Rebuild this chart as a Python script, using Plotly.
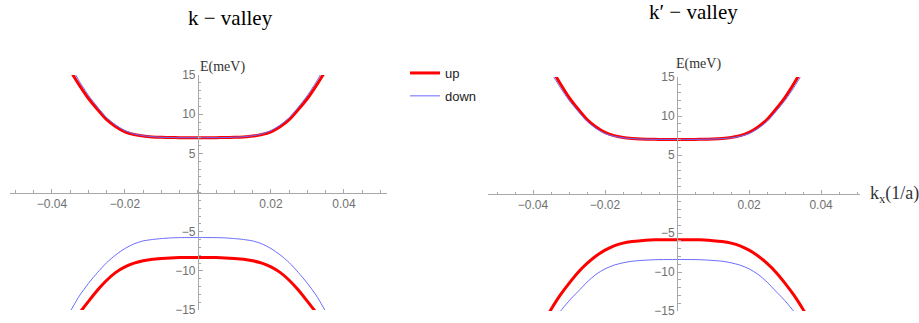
import plotly.graph_objects as go

# ---------------- data ----------------
K = [-0.0375, -0.035, -0.0325, -0.03, -0.0275, -0.025, -0.0225, -0.02, -0.0175, -0.015,
     -0.0125, -0.01, -0.0075, -0.005, -0.0025, 0.0, 0.0025, 0.005, 0.0075, 0.01,
     0.0125, 0.015, 0.0175, 0.02, 0.0225, 0.025, 0.0275, 0.03, 0.0325, 0.035, 0.0375]

# k-valley
k_cond_up = [17.8, 15.6, 13.7, 12.0, 10.6, 9.3, 8.4, 7.75, 7.4, 7.2, 7.1, 7.05, 7.02, 7.0, 7.0, 7.0,
             7.0, 7.0, 7.02, 7.05, 7.1, 7.2, 7.4, 7.75, 8.4, 9.3, 10.6, 12.0, 13.7, 15.6, 17.8]
k_cond_down = [18.5, 16.2, 14.2, 12.4, 10.9, 9.55, 8.6, 7.9, 7.48, 7.25, 7.12, 7.05, 7.02, 7.0, 7.0, 7.0,
               7.0, 7.0, 7.02, 7.05, 7.12, 7.25, 7.48, 7.9, 8.6, 9.55, 10.9, 12.4, 14.2, 16.2, 18.5]
k_val_up = [-18.8, -17.0, -15.4, -13.9, -12.45, -11.2, -10.2, -9.5, -9.02, -8.72, -8.52, -8.42, -8.35, -8.31, -8.3, -8.3,
            -8.3, -8.31, -8.35, -8.42, -8.52, -8.72, -9.02, -9.5, -10.2, -11.2, -12.45, -13.9, -15.4, -17.0, -18.8]
k_val_down = [-17.4, -15.2, -13.2, -11.6, -10.2, -8.95, -7.95, -7.15, -6.55, -6.18, -6.0, -5.88, -5.8, -5.76, -5.75, -5.75,
              -5.75, -5.76, -5.8, -5.88, -6.0, -6.18, -6.55, -7.15, -7.95, -8.95, -10.2, -11.6, -13.2, -15.2, -17.4]

# k'-valley
kp_cond_up = [18.5, 16.2, 14.2, 12.4, 10.9, 9.55, 8.6, 7.9, 7.48, 7.25, 7.12, 7.05, 7.02, 7.0, 7.0, 7.0,
              7.0, 7.0, 7.02, 7.05, 7.12, 7.25, 7.48, 7.9, 8.6, 9.55, 10.9, 12.4, 14.2, 16.2, 18.5]
kp_cond_down = [17.8, 15.6, 13.7, 12.0, 10.6, 9.3, 8.4, 7.75, 7.4, 7.2, 7.1, 7.05, 7.02, 7.0, 7.0, 7.0,
                7.0, 7.0, 7.02, 7.05, 7.1, 7.2, 7.4, 7.75, 8.4, 9.3, 10.6, 12.0, 13.7, 15.6, 17.8]
kp_val_up = [-16.8, -14.8, -13.0, -11.45, -10.05, -8.9, -7.95, -7.2, -6.65, -6.3, -6.1, -5.98, -5.9, -5.86, -5.85, -5.85,
             -5.85, -5.86, -5.9, -5.98, -6.1, -6.3, -6.65, -7.2, -7.95, -8.9, -10.05, -11.45, -13.0, -14.8, -16.8]
kp_val_down = [-18.6, -16.8, -15.1, -13.7, -12.5, -11.3, -10.3, -9.6, -9.12, -8.82, -8.62, -8.52, -8.45, -8.41, -8.4, -8.4,
               -8.4, -8.41, -8.45, -8.52, -8.62, -8.82, -9.12, -9.6, -10.3, -11.3, -12.5, -13.7, -15.1, -16.8, -18.6]

X_TICKS = [-0.04, -0.02, 0.02, 0.04]
X_TICK_TEXT = ["\u22120.04", "\u22120.02", "0.02", "0.04"]
Y_TICKS = [-15, -10, -5, 5, 10, 15]
Y_TICK_TEXT = ["\u221215", "\u221210", "\u22125", "5", "10", "15"]

SERIES_NAMES = ["up", "down"]
TITLES = ["k \u2212 valley", "k\u2032 \u2212 valley"]
Y_LABEL = "E(meV)"
X_LABEL = "k<sub>x</sub>(1/a)"

# ---------------- style / layout ----------------
W, H = 919, 323
RED = "#ff0000"
BLUE = "#6a6aff"
AXIS_COL = "#a8a8a8"
TICK_FONT = dict(family="Liberation Sans, Arial, sans-serif", size=12, color="#707070")
SERIF = "Liberation Serif, Times New Roman, serif"

XR1, XD1 = [-0.0515, 0.0518], [10 / W, 387 / W]
XR2, XD2 = [-0.0525, 0.0508], [488 / W, 860 / W]
YR = [-15, 15]
YD1 = [(H - 310) / H, (H - 75) / H]
YD2 = [(H - 311) / H, (H - 77) / H]


def zero_pos(rng, dom):
    return dom[0] + (0 - rng[0]) / (rng[1] - rng[0]) * (dom[1] - dom[0])


fig = go.Figure()


def add(y, color, width, xa, ya, name, show):
    fig.add_trace(go.Scatter(
        x=K, y=y, mode="lines", name=name, showlegend=show, legendgroup=name,
        line=dict(color=color, width=width, shape="spline", smoothing=0.6),
        xaxis=xa, yaxis=ya, hoverinfo="skip"))


add(k_val_up, RED, 3, "x", "y", SERIES_NAMES[0], True)
add(k_cond_up, RED, 3, "x", "y", SERIES_NAMES[0], False)
add(k_val_down, BLUE, 1, "x", "y", SERIES_NAMES[1], True)
add(k_cond_down, BLUE, 1, "x", "y", SERIES_NAMES[1], False)

add(kp_val_up, RED, 3, "x2", "y2", SERIES_NAMES[0], False)
add(kp_cond_up, RED, 3, "x2", "y2", SERIES_NAMES[0], False)
add(kp_val_down, BLUE, 1, "x2", "y2", SERIES_NAMES[1], False)
add(kp_cond_down, BLUE, 1, "x2", "y2", SERIES_NAMES[1], False)


def xaxis(rng, dom, ydom):
    return dict(
        range=rng, domain=dom, anchor="free", position=zero_pos(YR, ydom),
        automargin=False,
        showline=True, linecolor=AXIS_COL, linewidth=1,
        ticks="inside", ticklen=4, tickcolor=AXIS_COL, tickwidth=1,
        tickmode="array", tickvals=X_TICKS, ticktext=X_TICK_TEXT, tickfont=TICK_FONT,
        minor=dict(ticks="inside", ticklen=2.5, tickcolor=AXIS_COL, tickmode="linear",
                   tick0=0, dtick=0.005, showgrid=False),
        showgrid=False, zeroline=False, fixedrange=True)


def yaxis(dom, xrng, xdom):
    return dict(
        range=YR, domain=dom, anchor="free", position=zero_pos(xrng, xdom),
        automargin=False,
        showline=True, linecolor=AXIS_COL, linewidth=1,
        ticks="inside", ticklen=4, tickcolor=AXIS_COL, tickwidth=1,
        tickmode="array", tickvals=Y_TICKS, ticktext=Y_TICK_TEXT, tickfont=TICK_FONT,
        minor=dict(ticks="inside", ticklen=2.5, tickcolor=AXIS_COL, tickmode="linear",
                   tick0=0, dtick=1, showgrid=False),
        showgrid=False, zeroline=False, fixedrange=True)


fig.update_layout(
    width=W, height=H, margin=dict(l=0, r=0, t=0, b=0, pad=0, autoexpand=False),
    paper_bgcolor="white", plot_bgcolor="white",
    xaxis=xaxis(XR1, XD1, YD1), yaxis=yaxis(YD1, XR1, XD1),
    xaxis2=xaxis(XR2, XD2, YD2), yaxis2=yaxis(YD2, XR2, XD2),
    legend=dict(x=405 / W, y=(H - 58) / H, xanchor="left", yanchor="top",
                font=dict(family="Liberation Sans, Arial, sans-serif", size=13, color="#222222"),
                bgcolor="rgba(0,0,0,0)", tracegroupgap=3, itemwidth=30),
    showlegend=True,
)

annotations = [
    dict(text=TITLES[0], x=230 / W, y=(H - 18) / H, xref="paper", yref="paper",
         xanchor="center", yanchor="middle",
         showarrow=False, font=dict(family=SERIF, size=21, color="black")),
    dict(text=TITLES[1], x=693 / W, y=(H - 12) / H, xref="paper", yref="paper",
         xanchor="center", yanchor="middle",
         showarrow=False, font=dict(family=SERIF, size=21, color="black")),
    dict(text=Y_LABEL, x=zero_pos(XR1, XD1), y=(H - 67) / H, xref="paper", yref="paper",
         xanchor="left", yanchor="middle", showarrow=False,
         font=dict(family=SERIF, size=14, color="#333333")),
    dict(text=Y_LABEL, x=zero_pos(XR2, XD2) - 3 / W, y=(H - 64) / H, xref="paper", yref="paper",
         xanchor="left", yanchor="middle", showarrow=False,
         font=dict(family=SERIF, size=14, color="#333333")),
    dict(text=X_LABEL, x=868 / W, y=zero_pos(YR, YD2), xref="paper", yref="paper",
         xanchor="left", yanchor="middle", showarrow=False,
         font=dict(family=SERIF, size=18, color="#333333")),
]
fig.update_layout(annotations=annotations)

fig.write_html("out.html")
